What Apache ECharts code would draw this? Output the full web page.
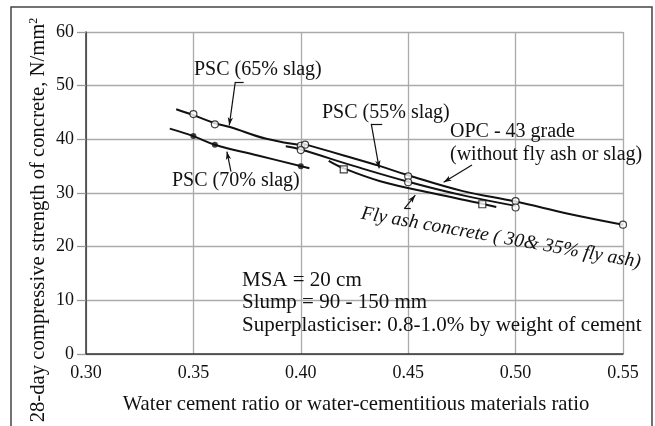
<!DOCTYPE html>
<html>
<head>
<meta charset="utf-8">
<script src="https://cdn.jsdelivr.net/npm/echarts@6/dist/echarts.min.js"></script>
<style>
  html, body { margin: 0; padding: 0; background: #fff; }
  #chart { width: 655px; height: 426px; }
</style>
</head>
<body>
<div id="chart"></div>
<script>
// axis ticks
const xTicks = [0.30, 0.35, 0.40, 0.45, 0.50, 0.55]
const yTicks = [0, 10, 20, 30, 40, 50, 60]

// fitted curves, [w/c ratio, strength]
const psc65Curve = [[0.342, 45.6], [0.350, 44.5], [0.360, 43.0], [0.367, 42.3], [0.384, 40.1], [0.402, 38.8]]
const psc70Curve = [[0.339, 42.0], [0.350, 40.6], [0.360, 39.0], [0.380, 37.0], [0.404, 34.6]]
const opcCurve = [[0.400, 39.3], [0.420, 37.0], [0.437, 35.0], [0.450, 33.3], [0.475, 30.4], [0.500, 28.4], [0.525, 26.1], [0.550, 24.1]]
const psc55Curve = [[0.393, 38.7], [0.400, 38.1], [0.425, 35.0], [0.450, 32.1], [0.475, 29.6], [0.500, 27.6]]
const flyCurve = [[0.413, 36.0], [0.420, 34.6], [0.437, 32.2], [0.462, 29.9], [0.4845, 28.0], [0.491, 27.4]]

// measured points
const psc65Points = [[0.35, 44.7], [0.36, 42.8], [0.40, 38.8]]
const psc70Points = [[0.35, 40.6], [0.36, 39.0], [0.40, 35.0]]
const opcPoints = [[0.402, 39.0], [0.45, 33.1], [0.50, 28.5], [0.55, 24.1]]
const psc55Points = [[0.40, 38.0], [0.45, 32.0], [0.50, 27.3]]
const flyPoints = [[0.42, 34.4], [0.4845, 27.9]]

const font = 'Liberation Serif'
const ink = '#111'

const chart = echarts.init(document.getElementById('chart'))

function curve (name, data) {
  return {
    name: name,
    type: 'line',
    data: data,
    smooth: 0.4,
    showSymbol: false,
    silent: true,
    z: 3,
    lineStyle: { color: ink, width: 2 }
  }
}

function marks (name, data, symbol, size, filled) {
  return {
    name: name,
    type: 'scatter',
    data: data,
    symbol: symbol,
    symbolSize: size,
    silent: true,
    z: 4,
    itemStyle: filled
      ? { color: ink }
      : { color: '#fff', borderColor: ink, borderWidth: 1.2 }
  }
}

function arrow (from, to) {
  return [{ coord: from }, { coord: to }]
}
function seg (from, to) {
  return [{ coord: from, symbol: 'none' }, { coord: to, symbol: 'none' }]
}

const opcSeries = curve('OPC', opcCurve)
opcSeries.markLine = {
  silent: true,
  symbol: ['none', 'arrow'],
  symbolSize: [4, 8],
  label: { show: false },
  lineStyle: { color: ink, width: 1.2, type: 'solid' },
  data: [
    seg([0.3695, 50.7], [0.3734, 50.7]),
    arrow([0.3695, 50.7], [0.3667, 42.6]),
    arrow([0.3675, 34.0], [0.3656, 37.7]),
    seg([0.4328, 42.9], [0.4379, 42.9]),
    arrow([0.4328, 42.9], [0.4365, 34.6]),
    arrow([0.4797, 35.2], [0.4665, 32.0]),
    seg([0.4482, 27.1], [0.4512, 27.1]),
    arrow([0.4482, 27.1], [0.4533, 29.6])
  ]
}

function label (x, y, text, size) {
  return {
    type: 'text',
    x: x,
    y: y,
    z: 10,
    style: { text: text, font: size + 'px "' + font + '"', fill: ink, verticalAlign: 'middle' }
  }
}

const option = {
  backgroundColor: '#fff',
  animation: false,
  grid: { left: 86, right: 32, top: 32, bottom: 72 },
  xAxis: {
    type: 'value',
    min: xTicks[0],
    max: xTicks[xTicks.length - 1],
    interval: 0.05,
    axisLine: { lineStyle: { color: '#333', width: 1.5 } },
    axisTick: { show: false },
    axisLabel: {
      margin: 10,
      color: ink,
      fontFamily: font,
      fontSize: 18,
      formatter: v => v.toFixed(2)
    },
    splitLine: { show: true, lineStyle: { color: '#aaa', width: 1.3 } }
  },
  yAxis: {
    type: 'value',
    min: yTicks[0],
    max: yTicks[yTicks.length - 1],
    interval: 10,
    axisLine: { show: true, lineStyle: { color: '#333', width: 1.5 } },
    axisTick: { show: true, length: 9, lineStyle: { color: '#999', width: 1.3 } },
    axisLabel: { margin: 12, color: ink, fontFamily: font, fontSize: 18 },
    splitLine: { show: true, lineStyle: { color: '#aaa', width: 1.3 } }
  },
  series: [
    curve('PSC (65% slag)', psc65Curve),
    curve('PSC (70% slag)', psc70Curve),
    opcSeries,
    curve('PSC (55% slag)', psc55Curve),
    curve('Fly ash concrete', flyCurve),
    marks('PSC 65 pts', psc65Points, 'circle', 7, false),
    marks('PSC 70 pts', psc70Points, 'circle', 6, true),
    marks('OPC pts', opcPoints, 'circle', 7, false),
    marks('PSC 55 pts', psc55Points, 'circle', 7, false),
    marks('Fly pts', flyPoints, 'rect', 7, false)
  ],
  graphic: [
    {
      type: 'rect',
      shape: { x: 11, y: 7, width: 641, height: 440 },
      style: { fill: 'none', stroke: '#444', lineWidth: 1.5 },
      silent: true
    },
    {
      type: 'text',
      x: 39,
      y: 220,
      rotation: Math.PI / 2,
      style: {
        text: '28-day compressive strength of concrete, N/mm{sup|2}',
        font: '20.7px "' + font + '"',
        fill: ink,
        align: 'center',
        verticalAlign: 'middle',
        rich: { sup: { fontSize: 12, fontFamily: font, verticalAlign: 'top', padding: [0, 0, 10, 0] } }
      }
    },
    {
      type: 'text',
      x: 356,
      y: 405,
      style: {
        text: 'Water cement ratio or water-cementitious materials ratio',
        font: '20.7px "' + font + '"',
        fill: ink,
        align: 'center',
        verticalAlign: 'middle'
      }
    },
    label(194, 70, 'PSC (65% slag)', 20),
    label(172, 181, 'PSC (70% slag)', 20),
    label(322, 113, 'PSC (55% slag)', 20),
    label(450, 132, 'OPC - 43 grade', 20),
    label(450, 155, '(without fly ash or slag)', 20),
    label(242, 280, 'MSA = 20 cm', 21),
    label(242, 302, 'Slump = 90 - 150 mm', 21),
    label(242, 325, 'Superplasticiser: 0.8-1.0% by weight of cement', 21),
    {
      type: 'text',
      x: 501,
      y: 238,
      rotation: -10 * Math.PI / 180,
      z: 10,
      style: {
        text: 'Fly ash concrete ( 30& 35% fly ash)',
        font: 'italic 19.5px "' + font + '"',
        fill: ink,
        align: 'center',
        verticalAlign: 'middle'
      }
    }
  ]
}

chart.setOption(option)
</script>
</body>
</html>
